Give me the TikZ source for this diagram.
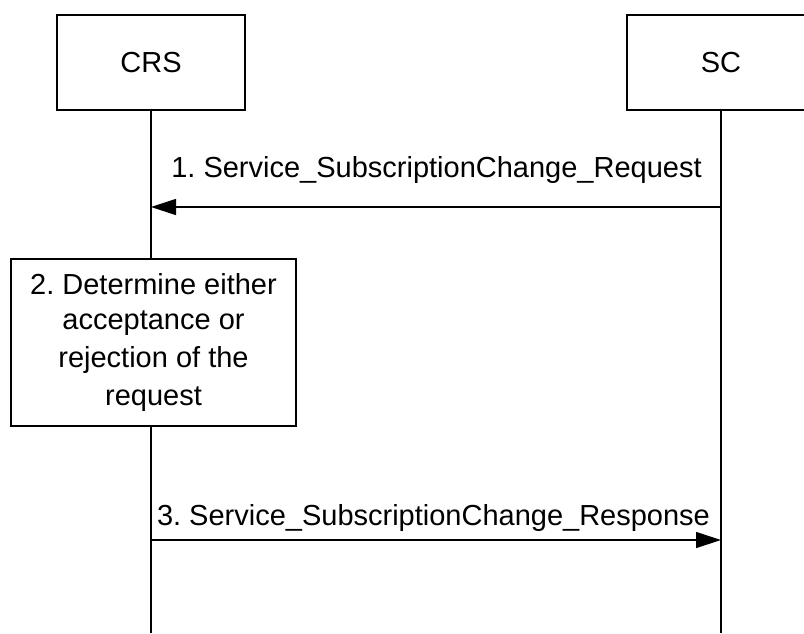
\documentclass[tikz,border=0pt]{standalone}
\usepackage{fontspec}
\setmainfont{Liberation Sans}
\usetikzlibrary{arrows.meta}
\begin{document}
\frenchspacing
\begin{tikzpicture}[x=1pt,y=-1pt,
  every node/.style={font=\fontsize{29}{38.3}\selectfont},
  entity/.style={draw,line width=1.2pt,minimum width=188pt,minimum height=95pt,inner sep=0pt},
  procbox/.style={draw,line width=1.2pt,minimum width=285pt,minimum height=167pt,align=center,inner sep=0pt},
  life/.style={line width=1.2pt},
  msg/.style={line width=1.2pt,-{Triangle[length=25pt,width=16pt]}},
  lbl/.style={inner sep=0pt}]
\useasboundingbox (0,0) rectangle (804,633);
\node[entity] (crs) at (151,62.5) {CRS};
\node[entity] (sc) at (721,62.5) {SC};
\node[procbox] (det) at (153.5,342.5) {\raisebox{-3pt}{2. Determine either}\\acceptance or\\rejection of the\\request};
\coordinate (crsend) at (151,633);
\coordinate (scend) at (721,633);
\coordinate (m1s) at (721,207);
\coordinate (m1e) at (151,207);
\coordinate (m3s) at (151,540);
\coordinate (m3e) at (721,540);
\draw[life] (crs.south) -- (crs.south |- det.north);
\draw[life] (crs.south |- det.south) -- (crsend);
\draw[life] (sc.south) -- (scend);
\draw[msg] (m1s) -- (m1e);
\draw[msg] (m3s) -- (m3e);
\node[lbl] (l1) at (436.5,170) {1. Service\_SubscriptionChange\_Request};
\node[lbl] (l3) at (433.5,518) {3. Service\_SubscriptionChange\_Response};
\end{tikzpicture}
\end{document}
